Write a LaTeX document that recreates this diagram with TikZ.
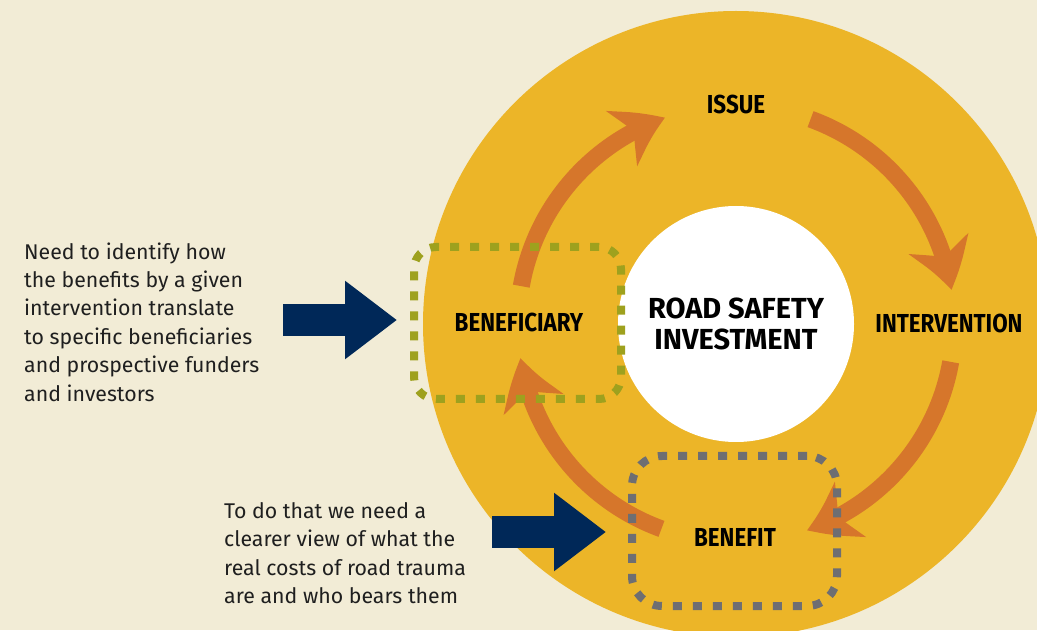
\documentclass[tikz,border=0pt]{standalone}
\usepackage{fontspec}
\setmainfont{Fira Sans}
\newfontfamily\capsfont[FakeStretch=0.86]{Fira Sans}
\newfontfamily\hubfont{Fira Sans}
\usetikzlibrary{arrows.meta, bending, calc}
\definecolor{paper}{RGB}{242,236,214}
\definecolor{gold}{RGB}{236,181,40}
\definecolor{rust}{RGB}{214,118,43}
\definecolor{navy}{RGB}{0,40,88}
\definecolor{olive}{RGB}{158,161,30}
\definecolor{slate}{RGB}{110,110,114}

\begin{document}
\begin{tikzpicture}[x=1pt,y=1pt,
    stage/.style={font=\capsfont\bfseries\fontsize{26}{26}\selectfont},
    cycle arrow/.style={draw=rust,line width=17pt,-{Stealth[length=48pt,width=62pt,inset=14pt,bend]}},
    focus/.style={draw,line width=8pt,dash pattern=on 9pt off 11pt,minimum width=207pt,minimum height=152pt,inner sep=0pt},
    note/.style={align=left,inner sep=0pt,font=\fontsize{21.3}{28.4}\selectfont,text=black!88},
    pointer/.style={draw=navy,line width=32pt,-{Triangle[length=52pt,width=75pt]}}]
    \useasboundingbox (0,0) rectangle (1037,630);
    \fill[paper] (0,0) rectangle (1037,630);
    \clip (0,0) rectangle (1037,630);
    \fill[gold] (736,306) circle[radius=313];
    \node[circle,fill=white,minimum size=236pt,inner sep=0pt,align=center,
          font=\hubfont\bfseries\fontsize{29}{31}\selectfont] (hub) at (736,306) {ROAD SAFETY\\INVESTMENT};
    % cycle of arrows round the hub
    \foreach \a in {170,70,-10,-110}
        \draw[cycle arrow] ($(hub)+(\a:218)$) arc[start angle=\a,end angle=\a-61,radius=218];
    \node[focus,draw=olive,rounded corners=22pt] (receiverbox) at (517.5,307) {};
    \node[focus,draw=slate,rounded corners=30pt,minimum width=205pt,minimum height=150pt] (benefitbox) at (734.5,99) {};
    \node[stage] (issue) at ($(hub)+(0,219.5)$) {ISSUE};
    \node[stage] (intervention) at ($(hub)+(213,1)$) {INTERVENTION};
    \node[stage] (beneficiary) at ($(hub)+(-217,1.5)$) {BENEFICIARY};
    \node[stage] (benefit) at ($(hub)+(-1,-213.5)$) {BENEFIT};
    % side notes
    \node[note,anchor=west] (needtxt) at (24,308) {Need to identify how\\the benefits by a given\\intervention translate\\to specific beneficiaries\\and prospective funders\\and investors};
    \node[note,anchor=west] (viewtxt) at (224,77) {To do that we need a\\clearer view of what the\\real costs of road trauma\\are and who bears them};
    \coordinate (needtail) at (283,310);
    \coordinate (viewtail) at (492,98);
    \draw[pointer,shorten >=13pt] (needtail) -- (needtail -| receiverbox.west);
    \draw[pointer,shorten >=22pt] (viewtail) -- (viewtail -| benefitbox.west);
\end{tikzpicture}
\end{document}
